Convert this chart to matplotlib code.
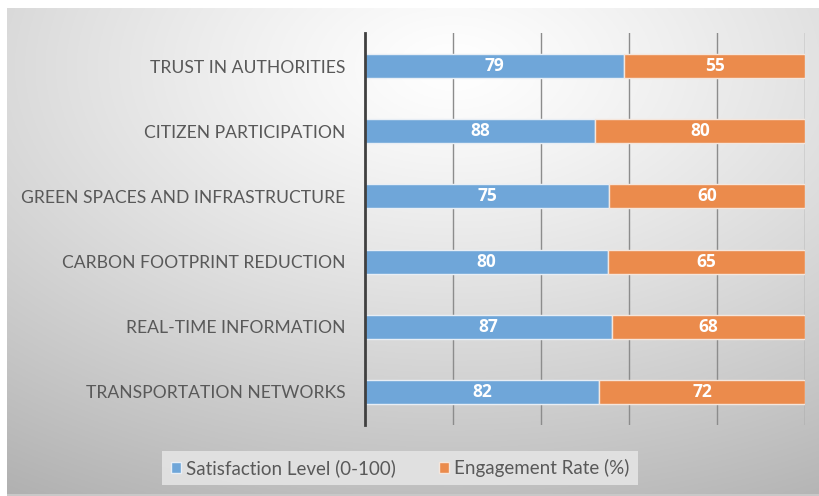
import matplotlib
matplotlib.use("Agg")
import matplotlib.pyplot as plt
from matplotlib.patches import Patch
import numpy as np

plt.rcParams["font.family"] = ["Lato", "DejaVu Sans"]

# data (top to bottom as drawn)
categories = [
    "TRUST IN AUTHORITIES",
    "CITIZEN PARTICIPATION",
    "GREEN SPACES AND INFRASTRUCTURE",
    "CARBON FOOTPRINT REDUCTION",
    "REAL-TIME INFORMATION",
    "TRANSPORTATION NETWORKS",
]
satisfaction = [79, 88, 75, 80, 87, 82]
engagement = [55, 80, 60, 65, 68, 72]

BLUE = "#6fa6d9"
ORANGE = "#eb8b4c"
TXT = "#595959"

W, H = 819, 496
fig = plt.figure(figsize=(W / 100, H / 100), dpi=100)
fig.patch.set_facecolor("white")

# gradient chart-area background
bg = fig.add_axes([7 / W, 0, 1 - 7 / W, 1 - 8 / H])
bg.set_axis_off()
yy, xx = np.mgrid[0:1:300j, 0:1:500j]
r = np.sqrt(((xx - 0.55) / 0.9) ** 2 + ((yy - 0.12) / 0.9) ** 2)
shade = 1.0 - 0.26 * np.clip(r, 0, 1.2) ** 1.2
bg.imshow(np.dstack([shade] * 3), aspect="auto", extent=[0, 1, 1, 0])
bg.plot([0, 1], [0.002, 0.002], color="#c8c8c8", lw=1.5, transform=bg.transAxes)

ax = fig.add_axes([365 / W, 1 - 424.6 / H, 440 / W, 391.2 / H])
ax.set_facecolor("none")

y = np.arange(len(categories))[::-1]
tot = np.array(satisfaction) + np.array(engagement)
s_pct = np.array(satisfaction) / tot * 100
e_pct = np.array(engagement) / tot * 100

ax.barh(y, s_pct, height=0.37, color=BLUE, edgecolor="#e8eef5", linewidth=1, zorder=2)
ax.barh(y, e_pct, left=s_pct, height=0.37, color=ORANGE, edgecolor="#f5e6dc",
        linewidth=1, zorder=2)

for yi, sp, ep, sv, ev in zip(y, s_pct, e_pct, satisfaction, engagement):
    ax.text(sp / 2, yi, str(sv), ha="center", va="center", color="white",
            fontsize=12.5, fontweight="bold", family=["Open Sans", "DejaVu Sans"], zorder=3)
    ax.text(sp + ep / 2, yi, str(ev), ha="center", va="center", color="white",
            fontsize=12.5, fontweight="bold", family=["Open Sans", "DejaVu Sans"], zorder=3)

ax.set_xlim(0, 100)
ax.set_ylim(-0.5, len(categories) - 0.5)
ax.set_xticks([20, 40, 60, 80, 100])
ax.xaxis.grid(True, color="#8c8c8c", linewidth=1)
ax.set_axisbelow(True)
ax.tick_params(axis="x", length=0, labelbottom=False)
ax.set_yticks(y)
ax.set_yticklabels(categories, fontsize=12.6, color=TXT)
ax.tick_params(axis="y", length=0, pad=14)
for s in ["top", "right", "bottom"]:
    ax.spines[s].set_visible(False)
ax.spines["left"].set_color("#404040")
ax.spines["left"].set_linewidth(2)

# legend
handles = [Patch(facecolor=BLUE, edgecolor="#e8eef5", label="Satisfaction Level (0-100)"),
           Patch(facecolor=ORANGE, edgecolor="#f5e6dc", label="Engagement Rate (%)")]
leg = fig.legend(handles=handles, loc="center", bbox_to_anchor=(400 / W, 1 - 468 / H),
                 ncol=2, fontsize=13.5, frameon=True, handlelength=0.55,
                 handleheight=0.55, handletextpad=0.25, columnspacing=2.3,
                 borderpad=0.45, borderaxespad=0, fancybox=False)
leg.get_frame().set_facecolor("#e4e4e4")
leg.get_frame().set_edgecolor("none")
leg.get_frame().set_alpha(0.9)
for t in leg.get_texts():
    t.set_color(TXT)

fig.savefig("out.png", dpi=100)
